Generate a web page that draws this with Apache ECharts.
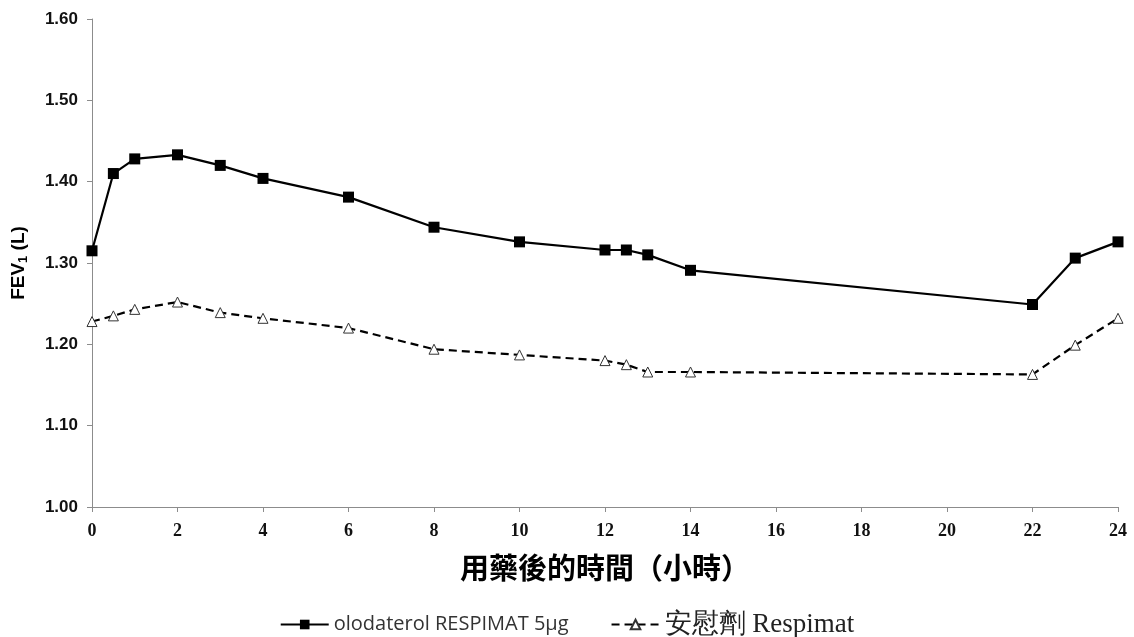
<!DOCTYPE html>
<html>
<head>
<meta charset="utf-8">
<script src="https://cdn.jsdelivr.net/npm/echarts@6/dist/echarts.min.js"></script>
<style>html,body{margin:0;padding:0;background:#fff;}#c{width:1134px;height:637px;}</style>
</head>
<body>
<div id="c"></div>
<script>
const hours = [0, 0.5, 1, 2, 3, 4, 6, 8, 10, 12, 12.5, 13, 14, 22, 23, 24];
const olodaterol = [1.315, 1.410, 1.428, 1.433, 1.420, 1.404, 1.381, 1.344, 1.326, 1.316, 1.316, 1.310, 1.291, 1.249, 1.306, 1.326];
const placebo = [1.228, 1.235, 1.243, 1.252, 1.239, 1.232, 1.220, 1.194, 1.187, 1.180, 1.175, 1.166, 1.166, 1.163, 1.199, 1.232];
const seriesNames = ['olodaterol RESPIMAT 5µg', '安慰劑 Respimat'];
const xTicks = {min: 0, max: 24, interval: 2};
const yTicks = {min: 1.0, max: 1.6, interval: 0.1};

const chart = echarts.init(document.getElementById('c'));
chart.setOption({
  animation: false,
  backgroundColor: '#fff',
  grid: {left: 92, right: 16, top: 19, bottom: 130, containLabel: false},
  xAxis: {
    type: 'value', min: xTicks.min, max: xTicks.max, interval: xTicks.interval,
    axisLine: {lineStyle: {color: '#8c8c8c', width: 1}},
    axisTick: {show: true, inside: false, length: 5, lineStyle: {color: '#8c8c8c'}},
    splitLine: {show: false},
    axisLabel: {color: '#111', fontFamily: 'Liberation Serif', fontWeight: 'bold', fontSize: 18, margin: 15},
    name: '用藥後的時間（小時）', nameLocation: 'middle', nameGap: 46,
    nameTextStyle: {color: '#000', fontFamily: 'Noto Sans CJK TC', fontWeight: 'bold', fontSize: 29}
  },
  yAxis: {
    type: 'value', min: yTicks.min, max: yTicks.max, interval: yTicks.interval,
    axisLine: {show: true, lineStyle: {color: '#8c8c8c', width: 1}},
    axisTick: {show: true, inside: false, length: 5, lineStyle: {color: '#8c8c8c'}},
    splitLine: {show: false},
    axisLabel: {color: '#111', fontFamily: 'Liberation Sans', fontWeight: 'bold', fontSize: 17, margin: 14,
      formatter: v => v.toFixed(2)},
    name: '{m|FEV}{s|1}{m| (L)}', nameLocation: 'middle', nameGap: 62, nameRotate: 90,
    nameTextStyle: {
      rich: {
        m: {fontFamily: 'Liberation Sans', fontWeight: 'bold', fontSize: 19, color: '#000', lineHeight: 22, verticalAlign: 'middle'},
        s: {fontFamily: 'Liberation Sans', fontWeight: 'bold', fontSize: 13, color: '#000', lineHeight: 22, verticalAlign: 'bottom', padding: [9, 0, 0, 0]}
      }
    }
  },
  legend: {
    top: 606, left: 'center', itemWidth: 48, itemHeight: 12, itemGap: 42,
    data: seriesNames,
    formatter: n => n === seriesNames[0] ? '{a|' + n + '}' : '{b|' + n + '}',
    textStyle: {
      rich: {
        a: {fontFamily: 'Open Sans', fontSize: 20, color: '#333'},
        b: {fontFamily: 'Liberation Serif', fontSize: 27, color: '#222'}
      }
    }
  },
  series: [
    {
      name: seriesNames[0], type: 'line',
      data: hours.map((h, i) => [h, olodaterol[i]]),
      symbol: 'rect', symbolSize: 11,
      itemStyle: {color: '#000'},
      lineStyle: {color: '#000', width: 2.2, type: 'solid'}
    },
    {
      name: seriesNames[1], type: 'line',
      data: hours.map((h, i) => [h, placebo[i]]),
      symbol: 'triangle', symbolSize: 10,
      itemStyle: {color: '#fff', borderColor: '#333', borderWidth: 1},
      lineStyle: {color: '#000', width: 2.2, type: [8, 5]}
    }
  ]
});
</script>
</body>
</html>
